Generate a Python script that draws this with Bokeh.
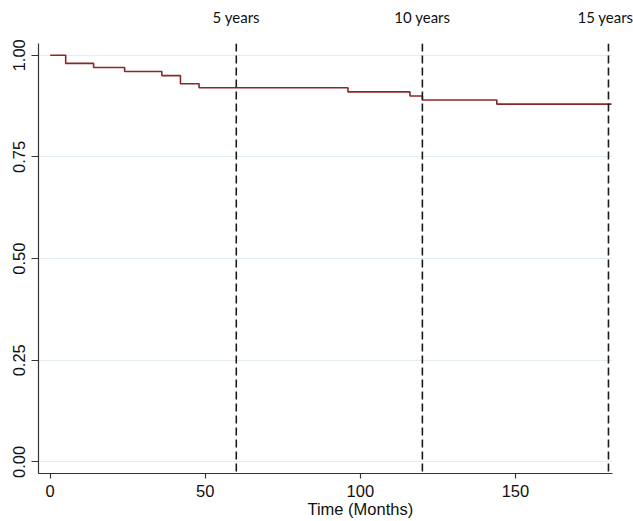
from bokeh.plotting import figure
from bokeh.models import Range1d, FixedTicker, Span, LinearAxis
from bokeh.embed import file_html
from bokeh.resources import INLINE

# Kaplan-Meier style step data (months, survival)
months = [0, 5, 14, 24, 36, 42, 48, 96, 116, 120, 144, 181]
survival = [1.00, 0.98, 0.97, 0.96, 0.95, 0.93, 0.92, 0.91, 0.90, 0.89, 0.88, 0.88]

x_ticks = [0, 50, 100, 150]
y_ticks = [0.00, 0.25, 0.50, 0.75, 1.00]
y_tick_labels = ["0.00", "0.25", "0.50", "0.75", "1.00"]

event_months = [60, 120, 180]
event_labels = ["5 years", "10 years", "15 years"]

x_title = "Time (Months)"
x_title_anchor = 100  # where the title is centred (layout)

p = figure(width=633, height=521, output_backend="svg", toolbar_location=None,
           x_range=Range1d(-3.77, 181.3), y_range=Range1d(-0.0285, 1.029),
           min_border_left=38, min_border_right=21, min_border_top=43, min_border_bottom=48)
p.outline_line_color = None
p.background_fill_color = "white"
p.border_fill_color = "white"

p.step(months, survival, mode="after", line_color="#8c2727", line_width=1.6)

for m in event_months:
    p.add_layout(Span(location=m, dimension="height", line_color="#1a1a1a",
                      line_width=1.6, line_dash="8 4"))

p.xgrid.visible = False
p.ygrid.ticker = FixedTicker(ticks=y_ticks)
p.ygrid.grid_line_color = "#e3edf0"
p.ygrid.grid_line_width = 1

p.xaxis.ticker = FixedTicker(ticks=x_ticks)
p.yaxis.ticker = FixedTicker(ticks=y_ticks)
p.yaxis.major_label_overrides = {t: s for t, s in zip(y_ticks, y_tick_labels)}
p.yaxis.major_label_orientation = "vertical"

for ax in (p.xaxis, p.yaxis):
    ax.axis_line_color = "#333333"
    ax.axis_line_width = 1.2
    ax.major_tick_line_color = "#333333"
    ax.major_tick_line_width = 1.2
    ax.major_tick_in = 0
    ax.minor_tick_line_color = None
    ax.major_label_text_font = "Liberation Sans"
    ax.major_label_text_font_size = "16.5px"
    ax.major_label_text_color = "#111111"

p.xaxis.major_tick_out = 5
p.xaxis.major_label_standoff = 6
p.yaxis.major_tick_out = 7
p.yaxis.major_label_standoff = 6

# x-axis title, centred as in the original
title_axis = LinearAxis(ticker=FixedTicker(ticks=[x_title_anchor]),
                        major_label_overrides={x_title_anchor: x_title})
title_axis.axis_line_color = None
title_axis.major_tick_line_color = None
title_axis.minor_tick_line_color = None
title_axis.major_tick_out = 0
title_axis.major_tick_in = 0
title_axis.major_label_standoff = 0
title_axis.major_label_text_font = "Liberation Sans"
title_axis.major_label_text_font_size = "16.5px"
title_axis.major_label_text_color = "#111111"
p.add_layout(title_axis, "below")

# event labels above the plot
top_axis = LinearAxis(ticker=FixedTicker(ticks=event_months),
                      major_label_overrides={m: s for m, s in zip(event_months, event_labels)})
top_axis.axis_line_color = None
top_axis.major_tick_line_color = None
top_axis.minor_tick_line_color = None
top_axis.major_tick_out = 0
top_axis.major_tick_in = 0
top_axis.major_label_standoff = 18
top_axis.major_label_text_font = "Lato"
top_axis.major_label_text_font_size = "15px"
top_axis.major_label_text_color = "#111111"
p.add_layout(top_axis, "above")

open("out.html", "w").write(file_html(p, INLINE))
